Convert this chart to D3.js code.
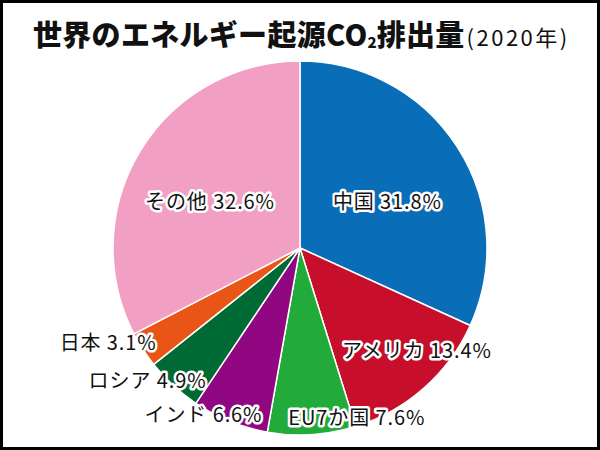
<!DOCTYPE html>
<html><head><meta charset="utf-8">
<script src="https://cdn.jsdelivr.net/npm/d3@7/dist/d3.min.js"></script>
<style>body{margin:0;background:#fff}svg{display:block}</style>
</head><body>
<script>
const categories = ["中国","アメリカ","EU7か国","インド","ロシア","日本","その他"];
const values = [31.8,13.4,7.6,6.6,4.9,3.1,32.6];
const colors = ["#0a6db7","#c70f2b","#22ab3a","#910782","#006a35","#e95516","#f19fc3"];

const W=600,H=450, cx=300, cy=248, R=187;
const svg=d3.select("body").append("svg").attr("width",W).attr("height",H);
svg.append("rect").attr("x",0).attr("y",0).attr("width",W).attr("height",H).attr("fill","#fff");

const pie=d3.pie().sort(null).value(d=>d)(values);
const arc=d3.arc().innerRadius(0).outerRadius(R);
const g=svg.append("g").attr("transform",`translate(${cx},${cy})`);
g.selectAll("path").data(pie).join("path")
  .attr("d",arc).attr("fill",(d,i)=>colors[i])
  .attr("stroke","#fff").attr("stroke-width",1.5);

// label layout: polar position (angle in degrees from top clockwise, radius)
const labelPolar=[[62,99],[131.5,156],[161.5,179],[210,193],[229,202],[243.7,214],[297,101]];
const fmt=d3.format(".1f");
const lg=svg.append("g").attr("font-family","'Noto Sans CJK JP','Noto Sans',sans-serif").attr("font-size",20).attr("letter-spacing",0.9);
pie.forEach((d,i)=>{
  const [a,r]=labelPolar[i]; const t=a*Math.PI/180;
  const x=cx+r*Math.sin(t), y=cy-r*Math.cos(t);
  const txt=categories[i]+" "+fmt(values[i])+"%";
  lg.append("text").attr("x",x).attr("y",y).attr("dy","0.35em").attr("text-anchor","middle")
    .attr("fill","none").attr("stroke","#fff").attr("stroke-width",5).attr("stroke-linejoin","round").text(txt);
  lg.append("text").attr("x",x).attr("y",y).attr("dy","0.35em").attr("text-anchor","middle")
    .attr("fill","#111").text(txt);
});

// title
const title=svg.append("text").attr("x",33).attr("y",46)
  .attr("font-family","'Noto Sans CJK JP',sans-serif").attr("fill","#111");
title.append("tspan").attr("font-size",29).attr("font-weight",900).attr("letter-spacing",0.3).text("世界のエネルギー起源CO");
title.append("tspan").attr("font-size",15).attr("font-weight",900).attr("dy",2).text("2");
title.append("tspan").attr("font-size",29).attr("font-weight",900).attr("dy",-2).attr("letter-spacing",0.3).text("排出量");
title.append("tspan").attr("font-size",22).attr("font-weight",400).attr("dx",2).attr("letter-spacing",2.5).text("(2020年)");

svg.append("rect").attr("x",1.5).attr("y",1.5).attr("width",W-3).attr("height",H-3)
  .attr("fill","none").attr("stroke","#000").attr("stroke-width",3);
</script>
</body></html>
